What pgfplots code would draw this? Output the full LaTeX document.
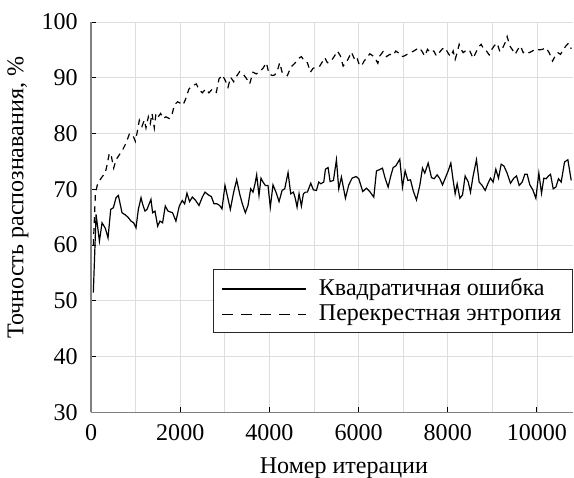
\documentclass[border=0pt]{standalone}
\usepackage{fontspec}
\setmainfont{Liberation Serif}
\usepackage{pgfplots}
\pgfplotsset{compat=1.18}

\begin{document}
\fontsize{12}{14.4}\selectfont
\begin{tikzpicture}
\begin{axis}[
    scale only axis,
    width=240.5pt, height=195pt,
    xmin=0, xmax=10800,
    ymin=30, ymax=100,
    axis x line*=bottom, axis y line*=left,
    x axis line style={draw=gray, line width=0.7pt},
    y axis line style={draw=gray, line width=1pt},
    xtick={0,2000,...,10000},
    minor xtick={1000,3000,...,9000},
    ytick={30,40,...,100},
    grid=both,
    major grid style={draw=black!13, line width=0.4pt},
    minor grid style={draw=black!13, line width=0.4pt},
    tick align=inside,
    major tick length=2.5pt, minor tick length=0pt,
    tick style={black, line width=0.5pt},
    /pgf/number format/assume math mode=true,
    scaled x ticks=false,
    xticklabel style={/pgf/number format/1000 sep={}, yshift=-2pt},
    yticklabel style={xshift=-2.5pt},
    xlabel={Номер итерации},
    ylabel={Точность распознавания, \%},
    every axis x label/.style={at={(rel axis cs:0.525,0)}, anchor=center, yshift=-28pt},
    every axis y label/.style={at={([xshift=-36.5pt]rel axis cs:0,0.55)}, rotate=90, anchor=center},
    legend style={at={(rel axis cs:1,0.367)}, anchor=north east,
        draw=black!85, line width=0.5pt, fill=white,
        inner xsep=4pt, inner ysep=3pt,
        column sep=4.5pt, row sep=-0.5pt,
        nodes={inner sep=1.5pt}},
    legend cell align=left,
    legend image code/.code={\draw[#1] (0pt,0pt) -- (42pt,0pt);},
]

% квадратичная ошибка
\addplot[black, line width=0.6pt] coordinates {
(50,51.5) (112,65.5) (187,60.7) (246,64) (320,63) (380,61.3) (440,66.4) (500,66.7)
(560,68.5) (612,68.9) (694,65.8) (770,65.4) (828,65) (895,64.3) (955,64) (1007,63.1)
(1060,66.4) (1120,68.5) (1157,67.3) (1209,66.1) (1254,66.4) (1343,68.2) (1380,65.8)
(1433,66.1) (1493,63.4) (1545,64.3) (1604,64) (1664,67) (1724,66.1) (1828,65.8)
(1903,64.3) (1978,67) (2046,68) (2098,67.4) (2150,69.3) (2210,67.8) (2270,68.6)
(2345,68) (2420,67.1) (2495,68.6) (2555,69.5) (2630,69) (2697,68.7) (2757,67.4)
(2824,67.4) (2884,67.1) (2936,66.5) (3003,70.7) (3063,68.6) (3123,66.4) (3198,69.5)
(3265,71.7) (3332,69.2) (3392,67.4) (3460,65.8) (3519,67.1) (3579,70.1) (3632,69.5)
(3677,71) (3714,72.6) (3766,68.9) (3811,72) (3856,71.3) (3908,70.7) (3968,70.7)
(4020,66.8) (4080,70.8) (4156,69.3) (4216,67.8) (4284,69.8) (4343,70.1) (4418,73)
(4478,69.2) (4538,69.5) (4583,68.3) (4620,66.8) (4665,69.2) (4717,67) (4762,69.2)
(4807,69.5) (4852,69.5) (4927,71.1) (4987,69.9) (5054,69.8) (5106,71.3) (5151,71)
(5219,71.3) (5256,73.6) (5316,73.9) (5361,71.4) (5436,71.6) (5503,75.3) (5555,70.1)
(5615,72.2) (5705,68.4) (5780,70.8) (5854,72) (5944,72.3) (6004,71.9) (6094,69.6)
(6176,70.2) (6251,69.6) (6341,68.6) (6401,73.3) (6460,73.5) (6535,73.8) (6595,72)
(6662,70.4) (6722,72.4) (6775,73.9) (6834,74.2) (6879,74.8) (6924,75.4) (6984,70.4)
(7044,73.3) (7104,71.6) (7164,71.7) (7223,69.8) (7298,68.1) (7373,70.7) (7433,73.8)
(7485,72.9) (7560,74.7) (7635,72.1) (7695,71.9) (7762,72.6) (7822,71.9) (7882,70.8)
(7949,72.1) (8009,73.3) (8069,74.7) (8121,71.6) (8166,69.2) (8211,71) (8271,68.4)
(8331,69) (8390,72.4) (8460,71.3) (8510,69.5) (8569,72.4) (8644,75.3) (8704,71.3)
(8771,70.7) (8839,69.8) (8899,71) (8958,72) (9018,71.3) (9078,73.6) (9138,72)
(9198,74.5) (9258,74.2) (9332,72.9) (9407,71.1) (9482,72) (9542,72.4) (9602,70.7)
(9669,71.3) (9729,72.7) (9781,72.7) (9841,70.8) (9908,69.9) (9976,68.4) (10043,72.9)
(10103,69.3) (10155,72) (10208,71.9) (10260,72.4) (10305,72.7) (10365,70.1)
(10425,70.4) (10484,71.9) (10544,71.3) (10619,74.9) (10694,75.3) (10769,71.6)
};
\addlegendentry{Квадратичная ошибка}

% перекрестная энтропия
\addplot[black, line width=0.6pt, dash pattern=on 3pt off 2.5pt,
    legend image post style={dash pattern=on 5.5pt off 4pt}] coordinates {
(50,60) (97,69.3) (149,71.1) (201,71.7) (261,72.4) (313,72.8) (351,74.1) (410,76.5)
(455,75.9) (507,73.8) (560,75.3) (634,76.2) (709,77.1) (784,78.3) (858,79.9) (933,79.8)
(993,78.6) (1045,80.7) (1082,82.4) (1142,81.3) (1194,82.4) (1231,81) (1284,83)
(1328,81.8) (1366,83.6) (1418,81) (1455,83.6) (1507,83) (1560,83.6) (1619,82.7)
(1679,83) (1754,82.7) (1813,83.3) (1866,85.1) (1940,85.7) (2015,85.4) (2061,85.1)
(2121,86.2) (2195,88) (2285,88.6) (2360,88.9) (2420,87.9) (2495,87.3) (2570,88)
(2644,87.3) (2719,88) (2809,87.4) (2869,89.8) (2943,90.5) (3011,89.5) (3071,88.3)
(3130,90.1) (3198,89.3) (3273,90.4) (3332,91.1) (3407,90.7) (3482,89.9) (3557,88.9)
(3632,91) (3706,90.7) (3781,91.1) (3856,91.7) (3931,92.7) (3991,90.7) (4066,90.4)
(4119,90.5) (4179,91.3) (4231,92.7) (4284,91) (4343,90.8) (4403,90.4) (4478,91.9)
(4545,92.4) (4605,92.9) (4658,93.5) (4717,93.8) (4792,92.9) (4852,92.7) (4919,91)
(4979,91.7) (5054,91.9) (5129,92.1) (5189,92.9) (5241,93.6) (5301,92.7) (5376,92.9)
(5451,93.8) (5525,94.8) (5593,93.9) (5653,92.1) (5720,92.7) (5780,93.6) (5839,94.6)
(5899,93.5) (5952,93.9) (6011,92.4) (6064,92.1) (6124,93) (6176,93.5) (6251,94.3)
(6326,93.9) (6386,93.3) (6431,92.6) (6475,93.9) (6550,94.7) (6625,93.8) (6700,94.2)
(6775,94) (6834,94.8) (6887,94.5) (6962,93.8) (7021,93.9) (7089,94.2) (7164,94.5)
(7238,94.8) (7298,95.1) (7358,95.4) (7418,94.8) (7485,93.9) (7545,95.1) (7612,94.5)
(7687,94.8) (7747,93.9) (7807,94.5) (7882,95.2) (7941,95.4) (8001,94.5) (8061,93.8)
(8121,94.8) (8166,93.3) (8211,94.5) (8256,96) (8301,95.1) (8346,94.5) (8435,95.1)
(8495,94.8) (8569,93.5) (8629,94.5) (8697,95.6) (8749,96) (8809,95.1) (8869,94.8)
(8929,94.1) (8988,95.1) (9048,95.8) (9108,96.2) (9168,94.7) (9228,95.3) (9288,96.3)
(9332,97.4) (9392,95.7) (9452,95) (9512,94.2) (9572,95.1) (9632,95.7) (9692,94.5)
(9751,94.8) (9826,94.5) (9901,94.8) (9976,95.2) (10050,95) (10125,95.1) (10200,95.4)
(10275,94.5) (10350,93) (10410,93.9) (10469,94.5) (10529,94.2) (10589,95) (10649,95.7)
(10709,96.2) (10769,95.2)
};
\addlegendentry{Перекрестная энтропия}

\end{axis}
\pgfresetboundingbox
\path ([shift={(-45.5pt,-32.5pt)}]current axis.south west)
    rectangle ([shift={(0.7pt,11pt)}]current axis.north east);
\end{tikzpicture}
\end{document}
